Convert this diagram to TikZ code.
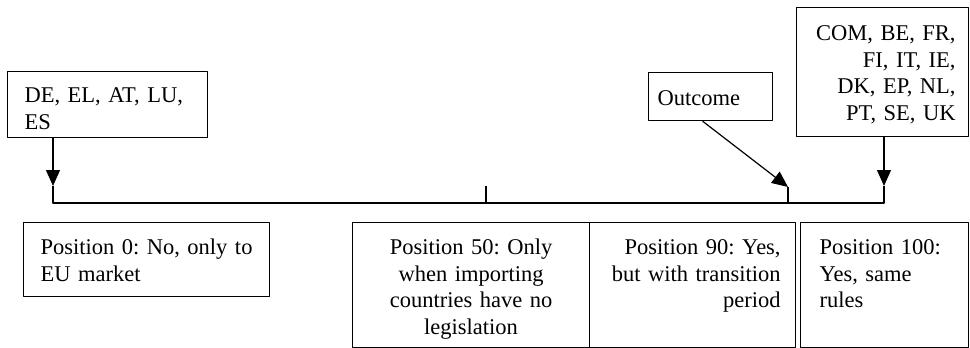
\documentclass[tikz,border=0pt]{standalone}
\usepackage{fontspec}
\setmainfont{Liberation Serif}
\usetikzlibrary{arrows.meta}
\frenchspacing

\tikzset{
	box/.style={draw,line width=1.2pt,anchor=north west,inner ysep=0pt,text height=32pt},
	pin/.style={line width=1.2pt,-{Triangle[width=14pt,length=16pt]}}
}

\begin{document}
\begin{tikzpicture}[x=1pt,y=-1pt,line width=1.2pt,line join=round,font=\fontsize{22.5pt}{26.5pt}\selectfont]
		\useasboundingbox (0,0) rectangle (970,348);
		%%%%%%%%%%%%%%%
		\node[box,inner xsep=17pt,text width=166pt,text height=31pt,text depth=35pt,align=left] (grpno) at (7,71) {DE, EL, AT, LU,\\ES};
		\node[box,inner xsep=9pt,text width=106pt,text height=33pt,text depth=15pt,align=left] (outcome) at (648,72) {Outcome};
		\node[box,inner xsep=13pt,text width=146pt,text height=33pt,text depth=96pt,align=right] (grpyes) at (796,7) {COM, BE, FR,\\FI, IT, IE,\\DK, EP, NL,\\PT, SE, UK};
		%%%%%%%%%%%%%%%
		\node[box,inner xsep=17pt,text width=212pt,text depth=42pt,align=left] (pos0) at (23,222) {Position 0: No, only to\\EU market};
		\node[box,inner xsep=10pt,text width=217pt,text depth=93pt,align=center] (pos50) at (352,222) {Position 50: Only\\when importing\\countries have no\\legislation};
		\node[box,inner xsep=15pt,text width=176pt,text depth=93pt,align=right] (pos90) at (589,222) {Position 90: Yes,\\but with transition\\period};
		\node[box,inner xsep=19pt,text width=130pt,text depth=93pt,align=left] (pos100) at (800,222) {Position 100:\\Yes, same\\rules};
		%%%%%%%%%%%%%%%
		\coordinate (t0) at (53,186);
		\coordinate (t50) at (486,186);
		\coordinate (t90) at (788,187);
		\coordinate (t100) at (884,186);
		\coordinate (a0) at (53,203);
		\coordinate (a50) at (486,203);
		\coordinate (a90) at (788,203);
		\coordinate (a100) at (884,203);
		\draw (t0) -- (a0) -- (a100) -- (t100) (a50) -- (t50) (a90) -- (t90);
		%%%%%%%%%%%%%%%
		\draw[pin] (t0 |- grpno.south) -- (t0);
		\draw[pin] (t100 |- grpyes.south) -- (t100);
		\draw[pin] ([xshift=-8pt]outcome.south) -- (t90);
\end{tikzpicture}
\end{document}
